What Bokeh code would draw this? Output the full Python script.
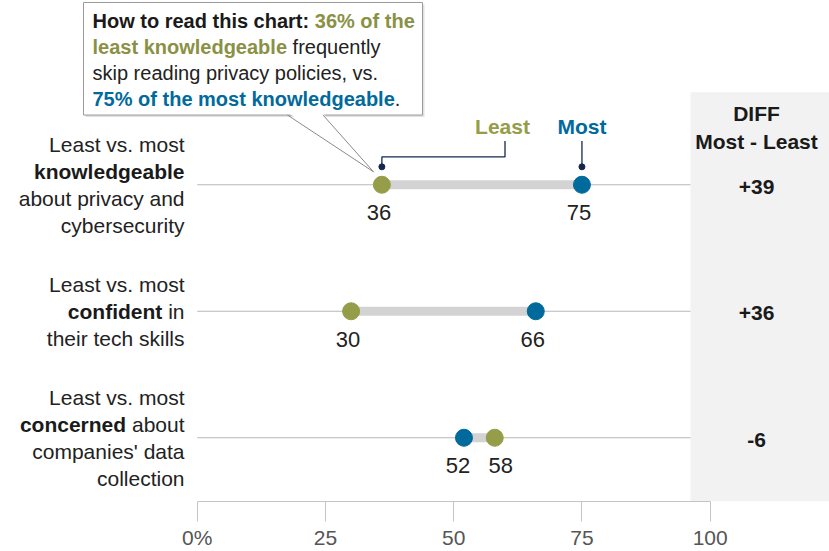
from bokeh.plotting import figure
from bokeh.models import Range1d, FixedTicker, CustomJSTickFormatter, BoxAnnotation
from bokeh.core.properties import value
from bokeh.embed import file_html
from bokeh.resources import INLINE

# ---------------- data ----------------
groups = ["knowledgeable", "confident", "concerned"]
least = [36, 30, 58]
most = [75, 66, 52]
ticks = [0, 25, 50, 75, 100]
row_labels = [
    [[("Least vs. most", False)], [("knowledgeable", True)],
     [("about privacy and", False)], [("cybersecurity", False)]],
    [[("Least vs. most", False)], [("confident", True), (" in", False)],
     [("their tech skills", False)]],
    [[("Least vs. most", False)], [("concerned", True), (" about", False)],
     [("companies' data", False)], [("collection", False)]],
]
diff_header = ["DIFF", "Most - Least"]
legend_names = ["Least", "Most"]

# ---------------- style / layout ----------------
OLIVE = "#959d48"
OLIVE_T = "#8a9145"
BLUE = "#006a9c"
TXT = "#222222"
FONT = "Liberation Sans"
W, H, AX_H = 829, 551, 48
OFF = 0                       # page offset of the figure
X0, KX = 196.7, 5.13          # screen px of value 0, px per unit
ROW0, ROWH = 185.0, 127.0     # screen px of first row, px between rows


def X(px):
    return (px - X0) / KX


def Y(py):
    return -(py - ROW0) / ROWH


AW = {
    False: dict(zip(" !',-.:%0123456789abcdefghijklmnopqrstuvwxyzABCDEFGHILMNOPRSTUVWY",
                    [278, 278, 191, 278, 333, 278, 278, 889] + [556] * 10 +
                    [556, 556, 500, 556, 556, 278, 556, 556, 222, 222, 500, 222, 833, 556, 556, 556, 556,
                     333, 500, 278, 556, 500, 722, 500, 500, 500] +
                    [667, 667, 722, 722, 667, 611, 778, 722, 278, 556, 833, 722, 778, 667, 722, 667, 611,
                     722, 667, 944, 667])),
    True: dict(zip(" !',-.:%0123456789abcdefghijklmnopqrstuvwxyzABCDEFGHILMNOPRSTUVWY",
                   [278, 333, 238, 278, 333, 278, 333, 889] + [556] * 10 +
                   [556, 611, 556, 611, 556, 333, 611, 611, 278, 278, 556, 278, 889, 611, 611, 611, 611,
                    389, 556, 333, 611, 556, 778, 556, 556, 500] +
                   [722, 722, 722, 722, 667, 611, 778, 722, 278, 611, 833, 722, 778, 667, 722, 667, 611,
                    722, 667, 944, 667])),
}


def tw(s, size, bold):
    return sum(AW[bold].get(c, 556) for c in s) / 1000.0 * size


p = figure(width=W, height=H,
           x_range=Range1d(X(OFF), X(OFF + W)),
           y_range=Range1d(Y(OFF + H - AX_H), Y(OFF)),
           output_backend="svg", toolbar_location=None,
           min_border=0, min_border_bottom=AX_H, y_axis_location=None)
p.outline_line_color = None
p.grid.visible = False
p.background_fill_color = "white"

ax = p.xaxis[0]
ax.ticker = FixedTicker(ticks=ticks)
ax.bounds = (0, 100)
ax.formatter = CustomJSTickFormatter(code="return tick == 0 ? tick + '%' : String(tick);")
ax.major_tick_in = 0
ax.major_tick_out = 20
ax.minor_tick_in = 0
ax.minor_tick_out = 0
ax.axis_line_color = "#c4c4c4"
ax.major_tick_line_color = "#c4c4c4"
ax.major_label_text_font = FONT
ax.major_label_text_font_size = "21px"
ax.major_label_text_color = "#555555"
ax.major_label_standoff = 4


def put(x, y, s, size=20, bold=False, color=TXT, align="left", xo=0, yo=0):
    p.text(x=[x], y=[y], text=[s], x_offset=xo, y_offset=yo,
           text_font=value(FONT), text_font_size=f"{size}px",
           text_font_style="bold" if bold else "normal",
           text_color=color, text_align=align, text_baseline="middle")


def put_pieces(x, y, pieces, size, start_xo, yo=0):
    """pieces: (text, bold, color); drawn left to right from start_xo (px)."""
    cum = start_xo
    for s, b, c in pieces:
        lead = s[:len(s) - len(s.lstrip())]
        put(x, y, s.strip(), size=size, bold=b, color=c, align="left", xo=cum + tw(lead, size, b), yo=yo)
        cum += tw(s, size, b)


ys = [-i for i in range(len(groups))]

# DIFF column panel
p.add_layout(BoxAnnotation(left=X(690), top=Y(92), fill_color="#f2f2f2", fill_alpha=1,
                           line_color=None, level="underlay"))

# row rules
p.segment(x0=[0] * len(ys), x1=[X(690)] * len(ys), y0=ys, y1=ys, line_color="#b8b8b8", line_width=1)
# connecting bars
p.segment(x0=least, x1=most, y0=ys, y1=ys, line_color="#d3d3d3", line_width=9, line_cap="butt")
# dots
p.scatter(least, ys, size=17, fill_color=OLIVE, line_color=OLIVE)
p.scatter(most, ys, size=17, fill_color=BLUE, line_color=BLUE)

# value labels
for l, m, y in zip(least, most, ys):
    if abs(m - l) < 10:
        ol = -6 if l < m else 6
        om = 6 if l < m else -6
    else:
        ol = om = -3
    put(l, y, str(l), size=22, align="center", xo=ol, yo=28)
    put(m, y, str(m), size=22, align="center", xo=om, yo=28)

# row labels (right aligned at screen x 184)
RX = 184
LS = 21
for r, lines in enumerate(row_labels):
    n = len(lines)
    for k, pieces in enumerate(lines):
        yo = (k - (n - 1) / 2.0) * 27
        total = sum(tw(s, LS, b) for s, b in pieces)
        put_pieces(X(RX), ys[r], [(s, b, "#1a1a1a" if b else TXT) for s, b in pieces], LS, -total, yo=yo)

# DIFF column
put(X(756), Y(113), diff_header[0], size=21, bold=True, color="#1a1a1a", align="center")
put(X(756), Y(142), diff_header[1], size=21, bold=True, color="#1a1a1a", align="center")
for l, m, y in zip(least, most, ys):
    d = m - l
    put(X(756), y, f"{d:+d}", size=21, bold=True, color="#1a1a1a", align="center", yo=2)

# legend labels with connectors on the first row
NAVY = "#14284b"
put(X(502), Y(127), legend_names[0], size=21, bold=True, color=OLIVE, align="center")
put(most[0], Y(127), legend_names[1], size=21, bold=True, color=BLUE, align="center")
p.segment(x0=[most[0]], x1=[most[0]], y0=[Y(141)], y1=[Y(167)], line_color=NAVY, line_width=1.3)
p.line(x=[X(504.5), X(504.5), least[0], least[0]], y=[Y(141), Y(157), Y(157), Y(167)],
       line_color=NAVY, line_width=1.3)
p.scatter([least[0], most[0]], [Y(167), Y(167)], size=6, fill_color=NAVY, line_color=NAVY)

# "How to read" call-out box
p.quad(left=X(85), right=X(424), top=Y(4), bottom=Y(117), fill_color="#e2e2e2", line_color=None)
p.quad(left=X(83), right=X(422), top=Y(2), bottom=Y(115), fill_color="white", line_color="#9a9a9a",
       line_width=1)
p.patch(x=[X(288), X(373), X(322)], y=[Y(113), Y(172), Y(113)], fill_color="white", line_color=None)
p.segment(x0=[X(287), X(322.5)], x1=[X(373), X(373)], y0=[Y(115), Y(115)], y1=[Y(172), Y(172)],
          line_color="#8a8a8a", line_width=1)

note_lines = [
    [("How to read this chart: ", True, "#1a1a1a"), (f"{least[0]}% of the", True, OLIVE_T)],
    [("least knowledgeable", True, OLIVE_T), (" frequently", False, TXT)],
    [("skip reading privacy policies, vs.", False, TXT)],
    [(f"{most[0]}% of the most knowledgeable", True, BLUE), (".", False, TXT)],
]
for k, pieces in enumerate(note_lines):
    put_pieces(X(92), Y(21 + 26 * k), pieces, 20, 0)

open("out.html", "w").write(file_html(p, INLINE))
